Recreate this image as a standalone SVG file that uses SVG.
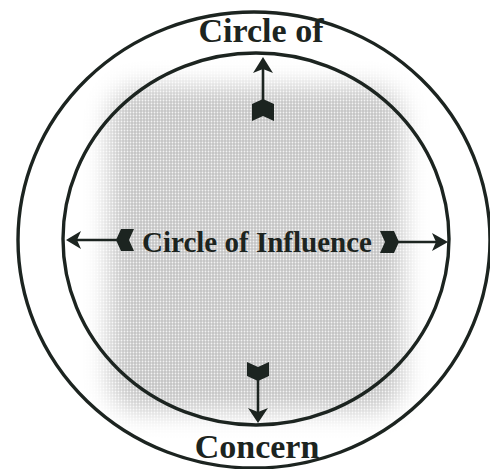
<svg xmlns="http://www.w3.org/2000/svg" width="490" height="469" viewBox="0 0 490 469">
  <style>
    .ring { fill: none; stroke: #1c2420; stroke-width: 3.4; }
    .lbl { font-family: "Liberation Serif", "Times New Roman", serif; font-weight: bold; fill: #1c2420; text-anchor: middle; }
    .shaft { stroke: #1c2420; stroke-width: 2.6; fill: none; }
    .ink { fill: #1c2420; }
  </style>
  <defs>
    <filter id="soft" x="-30%" y="-30%" width="160%" height="160%">
      <feGaussianBlur stdDeviation="12"/>
    </filter>
    <pattern id="dots" width="3" height="3" patternUnits="userSpaceOnUse">
      <rect width="3" height="3" fill="#c4c4c4"/>
      <circle cx="1.5" cy="1.5" r="0.9" fill="#f2f2f2"/>
    </pattern>
    <mask id="shadeMask">
      <rect x="108" y="86" width="296" height="326" rx="34" fill="#fff" filter="url(#soft)"/>
    </mask>
  </defs>
  <rect width="490" height="469" fill="#ffffff"/>

  <g id="circle-of-influence">
    <rect x="60" y="50" width="400" height="390" fill="url(#dots)" mask="url(#shadeMask)"/>
    <ellipse class="ring" cx="256" cy="239" rx="193" ry="186"/>
    <text class="lbl" x="257" y="252" font-size="29">Circle of Influence</text>
  </g>

  <g id="circle-of-concern">
    <ellipse class="ring" cx="254" cy="240" rx="236" ry="228"/>
    <text class="lbl" x="261" y="42" font-size="34">Circle of</text>
    <text class="lbl" x="257" y="458" font-size="34">Concern</text>
  </g>

  <g id="connectors">
    <g id="arrow-up">
      <line class="shaft" x1="263" y1="68" x2="263" y2="104"/>
      <polygon class="ink" points="263,57 273,73 263,69 253,73"/>
      <polygon class="ink" points="252,121 252,104 263,99 274,104 274,121 263,116"/>
    </g>
    <g id="arrow-down">
      <line class="shaft" x1="258" y1="374" x2="258" y2="412"/>
      <polygon class="ink" points="258,423 248,408 258,412 268,408"/>
      <polygon class="ink" points="247,362 258,367 269,362 269,376 258,381 247,376"/>
    </g>
    <g id="arrow-left">
      <line class="shaft" x1="77" y1="240" x2="120" y2="240"/>
      <polygon class="ink" points="66,240 81,231 77,240 81,249"/>
      <polygon class="ink" points="134,229 129,240 134,251 121,251 116,240 121,229"/>
    </g>
    <g id="arrow-right">
      <line class="shaft" x1="392" y1="242" x2="436" y2="242"/>
      <polygon class="ink" points="380,231 385,242 380,253 394,253 399,242 394,231"/>
      <polygon class="ink" points="448,242 432,233 436,242 432,251"/>
    </g>
  </g>
</svg>
